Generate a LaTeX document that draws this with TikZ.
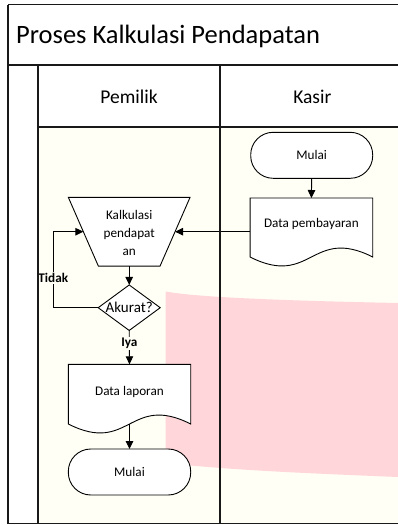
\documentclass[tikz,border=0pt]{standalone}
\usepackage{fontspec}
\setmainfont{Carlito}
\usetikzlibrary{arrows.meta}
\definecolor{lanebg}{HTML}{FFFFF6}
\definecolor{wm}{HTML}{FFD6DA}
\begin{document}
\begin{tikzpicture}[x=1pt,y=-1pt,
  frame/.style={line width=1.3pt, draw=black!90},
  shp/.style={draw=black, line width=0.9pt, fill=white},
  box/.style={inner sep=0pt, outer sep=0pt},
  lbl/.style={font=\fontsize{13.2}{18}\selectfont, align=center, inner sep=0pt},
  arr/.style={-{Triangle[length=8pt,width=7.5pt]}, line width=0.9pt},
  cond/.style={font=\bfseries\fontsize{13.2}{16}\selectfont, fill=lanebg, inner xsep=0pt, inner ysep=1pt}
]
\useasboundingbox (0,0) rectangle (398,525);
\fill[white] (0,0) rectangle (398,525);
\fill[lanebg] (38,127) rectangle (398,523.3);
% watermark
\fill[wm] (165.7,291.5) .. controls (190,296) and (250,300) .. (398,303) -- (398,477)
  .. controls (300,473) and (230,470) .. (165.7,463) -- cycle;

% texts of frame
\node[anchor=base west, inner sep=0pt, font=\fontsize{26.5}{30}\selectfont] (title) at (16,43.3) {Proses Kalkulasi Pendapatan};
\node[anchor=base, inner sep=0pt, font=\fontsize{19.5}{22}\selectfont] (hpem) at (129,103.3) {Pemilik};
\node[anchor=base, inner sep=0pt, font=\fontsize{19.5}{22}\selectfont] (hkas) at (312.3,103.3) {Kasir};

% Kasir lane
\node[shp, box, rounded corners=22.5pt, minimum width=122pt, minimum height=46pt, lbl] (m1) at (311.7,155.3) {Mulai};
\node[box, minimum width=122.7pt, minimum height=59pt] (bayar) at (311.4,227.5) {};
\draw[shp] (bayar.south west) -- (bayar.north west) -- (bayar.north east) -- (bayar.south east)
  .. controls ([yshift=31pt]bayar.south) and ([yshift=-31pt]bayar.south) .. (bayar.south west) -- cycle;
\node[lbl] (bayartxt) at ([yshift=3.5pt]bayar.center) {Data pembayaran};

% Pemilik lane
\node[box, minimum width=121.7pt, minimum height=68.7pt] (calc) at (129.2,231.7) {};
\draw[shp] (calc.north west) -- (calc.north east) -- ([xshift=-30pt]calc.south east)
  -- ([xshift=30pt]calc.south west) -- cycle;
\node[lbl] (calctxt) at ([yshift=-1.5pt]calc.center) {Kalkulasi\\pendapat\\an};

\node[box, minimum width=62pt, minimum height=45.5pt] (ak) at (129.2,307.7) {};
\draw[shp] (ak.north) -- (ak.east) -- (ak.south) -- (ak.west) -- cycle;
\node[inner sep=0pt, font=\fontsize{15}{17}\selectfont] (aktxt) at (ak.center) {Akurat?};

\node[box, minimum width=122.4pt, minimum height=59.7pt] (lap) at (129.5,394.15) {};
\draw[shp] (lap.south west) -- (lap.north west) -- (lap.north east) -- (lap.south east)
  .. controls ([yshift=31pt]lap.south) and ([yshift=-31pt]lap.south) .. (lap.south west) -- cycle;
\node[lbl] (laptxt) at ([yshift=2.5pt]lap.center) {Data laporan};

\node[shp, box, rounded corners=22.5pt, minimum width=122.4pt, minimum height=46pt, lbl] (m2) at (129.5,472) {Mulai};

% connectors
\coordinate (tl1) at (53.3,307.7);
\coordinate (tl2) at (53.3,231.7);
\draw[arr] (m1.south) -- (bayar.north);
\draw[arr] (bayar.west |- calc.east) -- ([xshift=-15pt]calc.east);
\draw[arr] (calc.south) -- (ak.north);
\draw[arr] (ak.west) -- (tl1) -- (tl2) -- ([xshift=15pt]calc.west);
\draw[arr] (ak.south) -- (lap.north);
\draw[arr] (lap.south) -- (m2.north);
\node[cond] (tidak) at (53.3,278) {Tidak};
\node[cond] (iya) at (129.3,343.3) {Iya};

% frame
\draw[frame] (8,4.6) -- (398,4.6);
\draw[frame] (8,4.6) -- (8,523.3) -- (398,523.3);
\draw[frame] (8,65) -- (398,65);
\draw[frame] (38,65) -- (38,523.3);
\draw[frame] (220,65) -- (220,523.3);
\draw[frame] (38,127) -- (398,127);
\end{tikzpicture}
\end{document}
